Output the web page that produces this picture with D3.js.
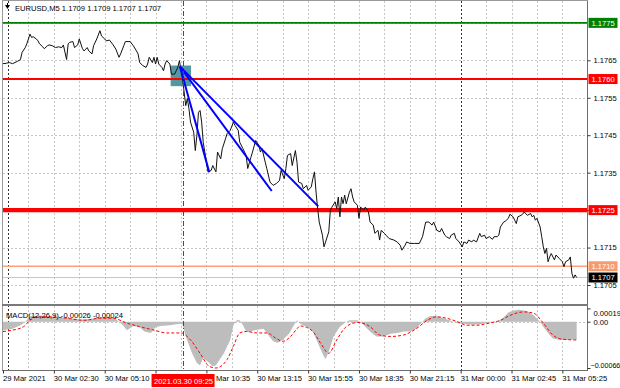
<!DOCTYPE html>
<html>
<head>
<meta charset="utf-8">
<script src="https://d3js.org/d3.v7.min.js"></script>
<style>
  body { margin: 0; background: #fff; }
  text { font-family: "Liberation Sans", Arial, sans-serif; font-size: 7.6px; }
</style>
</head>
<body>
<div id="chart"></div>
<script>
// EURUSD M5 closes, bar index counted from the left edge of the chart
const barIndex = [0,2,4,6,9,11,12,14,15,17,18,19,21,22,23,25,26,28,29,31,33,35,37,38,40,41,42,44,45,47,48,50,51,53,54,56,57,59,61,62,64,65,67,69,71,73,74,76,77,80,82,84,85,86,88,90,91,92,94,95,96,97,98,100,101,102,103,105,106,108,109,110,111,
  113,115,116,117,118,120,121,122,123,124,125,126,128,129,131,132,134,135,137,138,140,141,143,145,146,148,149,151,153,154,156,157,159,161,162,163,165,166,168,170,172,174,175,177,178,179,181,182,184,185,186,188,189,191,192,194,195,196,197,198,199,201,202,203,205,
  206,207,209,210,211,212,213,214,215,216,218,219,220,221,223,224,225,227,228,230,231,233,234,236,237,238,240,241,243,246,248,250,251,253,254,256,259,262,264,266,268,270,271,273,275,276,278,279,281,282,284,285,287,
  289,290,292,293,295,296,298,300,301,303,304,306,308,309,311,312,313,315,316,318,319,321,322,323,324,326,327,328,330,332,333,334,335,336,338,339,340,341,342,343,344,345,347,348,350,352,353,354,356,357,358,359,360,361];
const closePrice = [1.17641,1.17642,1.17644,1.17641,1.17647,1.17652,1.17671,1.17684,1.17694,1.17720,1.17711,1.17713,1.17707,1.17702,1.17694,1.17686,1.17681,1.17689,1.17691,1.17689,1.17684,1.17686,1.17684,1.17691,1.17652,1.17694,1.17698,1.17700,1.17684,1.17691,1.17707,1.17681,1.17675,1.17684,1.17675,1.17667,1.17689,1.17707,1.17729,1.17715,1.17707,1.17702,1.17704,1.17693,1.17680,1.17658,1.17667,1.17689,1.17700,1.17700,1.17689,1.17675,1.17667,1.17644,1.17636,1.17631,1.17640,1.17658,1.17644,1.17658,1.17640,1.17658,1.17640,1.17631,1.17622,1.17640,1.17649,1.17640,1.17613,1.17613,1.17622,1.17631,1.17649,
  1.17600,1.17529,1.17548,1.17521,1.17485,1.17458,1.17409,1.17449,1.17511,1.17516,1.17485,1.17431,1.17378,1.17352,1.17356,1.17369,1.17352,1.17405,1.17387,1.17414,1.17440,1.17454,1.17463,1.17485,1.17476,1.17463,1.17431,1.17414,1.17396,1.17361,1.17391,1.17405,1.17436,1.17423,1.17405,1.17414,1.17378,1.17361,1.17325,1.17316,1.17321,1.17329,1.17356,1.17334,1.17361,1.17396,1.17401,1.17369,1.17409,1.17378,1.17325,1.17321,1.17307,1.17316,1.17303,1.17312,1.17334,1.17352,1.17298,1.17254,1.17218,1.17183,1.17152,1.17165,1.17192,
  1.17250,1.17258,1.17272,1.17254,1.17285,1.17232,1.17285,1.17267,1.17290,1.17267,1.17298,1.17307,1.17285,1.17272,1.17263,1.17228,1.17258,1.17250,1.17258,1.17245,1.17218,1.17210,1.17188,1.17196,1.17170,1.17196,1.17188,1.17183,1.17174,1.17170,1.17165,1.17156,1.17143,1.17156,1.17165,1.17161,1.17161,1.17161,1.17179,1.17218,1.17218,1.17210,1.17218,1.17196,1.17192,1.17201,1.17183,1.17179,1.17174,1.17183,1.17188,1.17174,1.17165,
  1.17152,1.17165,1.17161,1.17170,1.17165,1.17170,1.17165,1.17188,1.17179,1.17183,1.17174,1.17179,1.17172,1.17179,1.17179,1.17183,1.17205,1.17218,1.17220,1.17228,1.17239,1.17232,1.17223,1.17214,1.17232,1.17236,1.17239,1.17245,1.17236,1.17241,1.17232,1.17236,1.17223,1.17228,1.17205,1.17179,1.17152,1.17134,1.17148,1.17112,1.17125,1.17134,1.17117,1.17130,1.17121,1.17112,1.17099,1.17112,1.17117,1.17125,1.17081,1.17068,1.17077,1.17070];

// MACD(12,26,9) histogram and signal
const histBars = [0,6,11,14,17,23,30,36,42,48,55,61,67,72,75,78,82,86,89,93,96,99,105,111,113,115,119,122,124,126,129,132,134,139,143,145,147,149,151,153,155,158,164,168,170,173,176,180,183,185,187,191,195,200,202,203,205,208,212,216,218,223,225,227,231,235,239,244,248,252,256,260,263,266,269,273,277,281,286,290,294,298,302,306,311,315,318,321,325,330,334,338,340,343,346,351,355,360,361];
const histValues = [-0.00012,-0.00010,-0.00005,0,0.00008,0.00009,0.00007,0.00006,0.00005,0.00003,0.00004,0.00006,0.00007,0.00002,-0.00004,-0.00012,-0.00006,-0.00008,-0.00014,-0.00016,-0.00008,-0.00006,-0.00005,-0.00003,-0.00004,-0.00021,-0.00045,-0.00059,-0.00062,-0.00052,-0.00057,-0.00064,-0.00062,-0.00045,-0.00026,-0.00005,0.00002,0.00002,-0.00005,-0.00014,-0.00015,-0.00012,-0.00010,-0.00022,-0.00028,-0.00030,-0.00026,-0.00017,-0.00005,0.00002,-0.00003,-0.00007,-0.00014,-0.00040,-0.00050,-0.00053,-0.00043,-0.00021,-0.00007,0,0.00002,0.00002,0,-0.00005,-0.00014,-0.00021,-0.00021,-0.00017,-0.00016,-0.00014,-0.00014,-0.00010,-0.00002,0.00005,0.00008,0.00008,0.00005,0.00002,-0.00002,-0.00003,-0.00004,-0.00004,-0.00003,-0.00001,0,0.00006,0.00013,0.00016,0.00017,0.00015,0.00009,0,-0.00007,-0.00016,-0.00024,-0.00026,-0.00026,-0.00025,-0.00026];
const signalBars = [0,6,13,17,21,30,40,51,61,69,78,86,95,103,112,118,124,130,134,141,145,149,153,160,166,172,176,181,185,187,191,195,200,205,210,216,223,231,237,244,252,260,267,273,279,286,292,298,306,313,319,328,334,340,346,352,361];
const signalValues = [-0.00014,-0.00012,-0.00007,0.00002,0.00007,0.00007,0.00005,0.00002,0.00005,0.00005,-0.00002,-0.00007,-0.00012,-0.00016,-0.00016,-0.00026,-0.00045,-0.00064,-0.00066,-0.00054,-0.00035,-0.00016,-0.00014,-0.00016,-0.00016,-0.00024,-0.00028,-0.00021,-0.00010,-0.00006,-0.00008,-0.00014,-0.00031,-0.00045,-0.00026,-0.00007,-0.00001,-0.00007,-0.00019,-0.00021,-0.00019,-0.00010,0.00002,0.00007,0.00005,0,-0.00005,-0.00005,-0.00002,0.00002,0.00009,0.00014,0.00012,-0.00002,-0.00019,-0.00025,-0.00026];

// horizontal levels and the current bid
const levelPrices = [1.1775, 1.1760, 1.1725, 1.1710];
const bidPrice = 1.1707;

// trend lines drawn from the 09:25 top, and the entry zone
const trendStart = [111.4, 1.17633];
const trendEnds = [[129.8, 1.17351], [169.1, 1.17301], [198.4, 1.17260]];
const entryBars = [105.5, 118.3];
const entryPrices = [1.17581, 1.17636];

// axes
const priceTicks = [1.1775, 1.1765, 1.1755, 1.1745, 1.1735, 1.1725, 1.1715, 1.1705];
const timeBars = [0, 32, 64, 96, 128, 160, 192, 224, 256, 288, 320, 352];
const timeLabels = ["29 Mar 2021", "30 Mar 02:30", "30 Mar 05:10", "30 Mar 07:50", "30 Mar 10:35", "30 Mar 13:15",
  "30 Mar 15:55", "30 Mar 18:35", "30 Mar 21:15", "31 Mar 00:00", "31 Mar 02:45", "31 Mar 05:25"];
const daySeparators = [3, 288];
const cursorBar = 113.3;
const cursorLabel = "2021.03.30 09:25";
const macdTicks = [0.00019, 0, -0.00066];

const L = 3, R = 587, plotTop = 1, priceBottom = 304, macdTop = 306, macdBottom = 370;

const svg = d3.select("#chart").append("svg")
    .attr("width", 620)
    .attr("height", 388);

const x = d3.scaleLinear().domain([0, 367.5]).range([L, R]);
const y = d3.scaleLinear().domain([1.1705, 1.1765]).range([285, 60.3]);
const yM = d3.scaleLinear().domain([-0.00066, 0.00019]).range([368, 308.4]);

svg.append("clipPath").attr("id", "clipMain")
  .append("rect").attr("x", L).attr("y", plotTop).attr("width", R - L).attr("height", priceBottom - plotTop);
svg.append("clipPath").attr("id", "clipMacd")
  .append("rect").attr("x", L).attr("y", macdTop).attr("width", R - L).attr("height", macdBottom - macdTop);

// cursor tag box on the time axis
const tagX0 = x(cursorBar) - 31.5, tagW = 63;

// grid
const gridBars = d3.range(16, 368, 16).filter(d => !daySeparators.includes(d));
const grid = svg.append("g").attr("stroke", "#c6c6c6").attr("stroke-dasharray", "2,2");
grid.selectAll(".vg").data(gridBars).enter().append("line")
    .attr("x1", d => Math.round(x(d)) + 0.5).attr("x2", d => Math.round(x(d)) + 0.5)
    .attr("y1", plotTop).attr("y2", priceBottom);
grid.selectAll(".vgm").data(gridBars).enter().append("line")
    .attr("x1", d => Math.round(x(d)) + 0.5).attr("x2", d => Math.round(x(d)) + 0.5)
    .attr("y1", macdTop).attr("y2", macdBottom);
grid.selectAll(".hg").data(priceTicks).enter().append("line")
    .attr("x1", L).attr("x2", R)
    .attr("y1", d => Math.round(y(d)) + 0.5).attr("y2", d => Math.round(y(d)) + 0.5);
grid.append("line").attr("x1", L).attr("x2", R)
    .attr("y1", Math.round(yM(0)) + 0.5).attr("y2", Math.round(yM(0)) + 0.5);

// day separators
svg.append("g").selectAll("line").data(daySeparators).enter().append("line")
    .attr("x1", d => Math.round(x(d)) + 0.5).attr("x2", d => Math.round(x(d)) + 0.5)
    .attr("y1", plotTop).attr("y2", macdBottom)
    .attr("stroke", "#333").attr("stroke-dasharray", "2,2");

const main = svg.append("g").attr("clip-path", "url(#clipMain)");

// entry zone
main.append("rect")
    .attr("x", x(entryBars[0])).attr("width", x(entryBars[1]) - x(entryBars[0]))
    .attr("y", y(entryPrices[1])).attr("height", y(entryPrices[0]) - y(entryPrices[1]))
    .attr("fill", "#3f8c98").attr("opacity", 0.9);

// levels
const levelColor = ["#008000", "#ff0000", "#ff0000", "#ffa07a"];
const levelWidth = [1.6, 2, 4.2, 1.6];
main.append("line").attr("x1", L).attr("x2", R)
    .attr("y1", y(bidPrice)).attr("y2", y(bidPrice))
    .attr("stroke", "#c8c8c8").attr("stroke-width", 1);
main.selectAll(".level").data(levelPrices).enter().append("line")
    .attr("x1", L).attr("x2", R)
    .attr("y1", d => y(d)).attr("y2", d => y(d))
    .attr("stroke", (d, i) => levelColor[i])
    .attr("stroke-width", (d, i) => levelWidth[i]);

// price line
const priceLine = d3.line().x(d => x(d[0])).y(d => y(d[1]));
main.append("path")
    .datum(barIndex.map((b, i) => [b, closePrice[i]]))
    .attr("d", priceLine)
    .attr("fill", "none").attr("stroke", "#111").attr("stroke-width", 1);

// trend lines
main.selectAll(".trend").data(trendEnds).enter().append("line")
    .attr("x1", x(trendStart[0])).attr("y1", y(trendStart[1]))
    .attr("x2", d => x(d[0])).attr("y2", d => y(d[1]))
    .attr("stroke", "#0000ff").attr("stroke-width", 2);

// MACD panel
const macd = svg.append("g").attr("clip-path", "url(#clipMacd)");
macd.append("path")
    .datum(histBars.map((b, i) => [b, histValues[i]]))
    .attr("d", d3.area().x(d => x(d[0])).y0(yM(0)).y1(d => yM(d[1])))
    .attr("fill", "#bdbdbd");
macd.append("path")
    .datum(signalBars.map((b, i) => [b, signalValues[i]]))
    .attr("d", d3.line().x(d => x(d[0])).y(d => yM(d[1])).curve(d3.curveMonotoneX))
    .attr("fill", "none").attr("stroke", "#ff0000").attr("stroke-width", 1)
    .attr("stroke-dasharray", "3,2");

// cursor line
svg.append("line")
    .attr("x1", Math.round(x(cursorBar)) + 0.5).attr("x2", Math.round(x(cursorBar)) + 0.5)
    .attr("y1", plotTop).attr("y2", macdBottom)
    .attr("stroke", "#ff0000").attr("stroke-dasharray", "5,2,1,2");

// frames
const frame = svg.append("g").attr("fill", "none");
frame.append("line").attr("x1", 2.5).attr("x2", 2.5).attr("y1", 0).attr("y2", macdBottom + 1).attr("stroke", "#9a9a9a");
frame.append("line").attr("x1", R + 0.5).attr("x2", R + 0.5).attr("y1", 0).attr("y2", macdBottom + 1).attr("stroke", "#6e6e6e");
frame.append("line").attr("x1", 2).attr("x2", R + 1).attr("y1", 0.5).attr("y2", 0.5).attr("stroke", "#9a9a9a");
frame.append("line").attr("x1", 2).attr("x2", R + 1).attr("y1", 305).attr("y2", 305).attr("stroke", "#7a7a7a").attr("stroke-width", 2);
frame.append("line").attr("x1", 2).attr("x2", R + 1).attr("y1", macdBottom + 0.5).attr("y2", macdBottom + 0.5).attr("stroke", "#6e6e6e");

// price axis (1.1725 label sits under its level tag)
const priceAxis = svg.append("g")
    .attr("transform", `translate(${R + 0.5},0)`)
    .call(d3.axisRight(y).tickValues(priceTicks.slice(1)).tickSize(3).tickPadding(3)
      .tickFormat(d => levelPrices.includes(d) ? "" : d3.format(".4f")(d)));
priceAxis.select(".domain").remove();
priceAxis.selectAll("text").style("font-size", "7.6px").attr("fill", "#000");
priceAxis.selectAll("line").attr("stroke", "#333");

// MACD axis
const macdAxis = svg.append("g")
    .attr("transform", `translate(${R + 0.5},0)`)
    .call(d3.axisRight(yM).tickValues(macdTicks).tickSize(3).tickPadding(3)
      .tickFormat(d => d === 0 ? "0.00" : d3.format(".5f")(d)));
macdAxis.select(".domain").remove();
macdAxis.selectAll("text").style("font-size", d => d < 0 ? "7.1px" : "7.6px").attr("fill", "#000")
    .attr("dx", d => d < 0 ? -3 : 0)
    .attr("dy", d => d > 0 ? "0.95em" : d < 0 ? "-0.05em" : "0.32em");
macdAxis.selectAll("line").attr("stroke", "#333");

// level labels
const boxFill = ["#008000", "#ff0000", "#ff0000", "#f99a6c"];
const labels = svg.append("g");
const tags = levelPrices.map((p, i) => ({ p, fill: boxFill[i] })).concat([{ p: bidPrice, fill: "#000" }]);
labels.selectAll("rect").data(tags).enter().append("rect")
    .attr("x", R + 1.5).attr("width", 29).attr("y", d => y(d.p) - 5).attr("height", 10)
    .attr("fill", d => d.fill);
labels.selectAll("text").data(tags).enter().append("text")
    .attr("x", R + 16).attr("y", d => y(d.p)).attr("dy", "0.35em")
    .attr("text-anchor", "middle").attr("fill", "#fff")
    .text(d => d3.format(".4f")(d.p));

// time axis; labels hidden by the cursor tag are cut like the terminal does
const timeAxis = svg.append("g")
    .attr("transform", `translate(0,${macdBottom + 0.5})`)
    .call(d3.axisBottom(x).tickValues(timeBars).tickSize(3).tickFormat((d, i) => timeLabels[i]));
timeAxis.select(".domain").remove();
timeAxis.selectAll("line").attr("stroke", "#333");
timeAxis.selectAll("text").style("font-size", "7.6px").attr("fill", "#000")
    .attr("text-anchor", "start").attr("x", -0.5).attr("y", 5);
timeAxis.selectAll(".tick")
    .filter(d => x(d) >= tagX0 && x(d) < tagX0 + tagW)
    .each(function(d) {
      const t = d3.select(this).select("text");
      const w = t.node().getComputedTextLength();
      if (x(d) + w <= tagX0 + tagW) t.remove();
      else t.text(timeLabels[timeBars.indexOf(d)].slice(3)).attr("x", tagX0 + tagW - x(d) + 1);
    });

svg.append("rect")
    .attr("x", tagX0).attr("width", tagW)
    .attr("y", 374).attr("height", 13).attr("fill", "#ff0000");
svg.append("text")
    .attr("x", x(cursorBar) + 0.5).attr("y", 383.5)
    .attr("text-anchor", "middle").attr("fill", "#fff")
    .text(cursorLabel);

// title and MACD caption
svg.append("path").attr("d", "M5,5 L10,5 L7.5,9 Z").attr("fill", "#000");
svg.append("line").attr("x1", 7.5).attr("x2", 7.5).attr("y1", 3).attr("y2", 5).attr("stroke", "#000");
svg.append("text").attr("x", 15).attr("y", 11)
    .text("EURUSD,M5  1.1709 1.1709 1.1707 1.1707");
svg.append("text").attr("x", 6).attr("y", 318)
    .text("MACD(12,26,9) -0.00026 -0.00024");
</script>
</body>
</html>
